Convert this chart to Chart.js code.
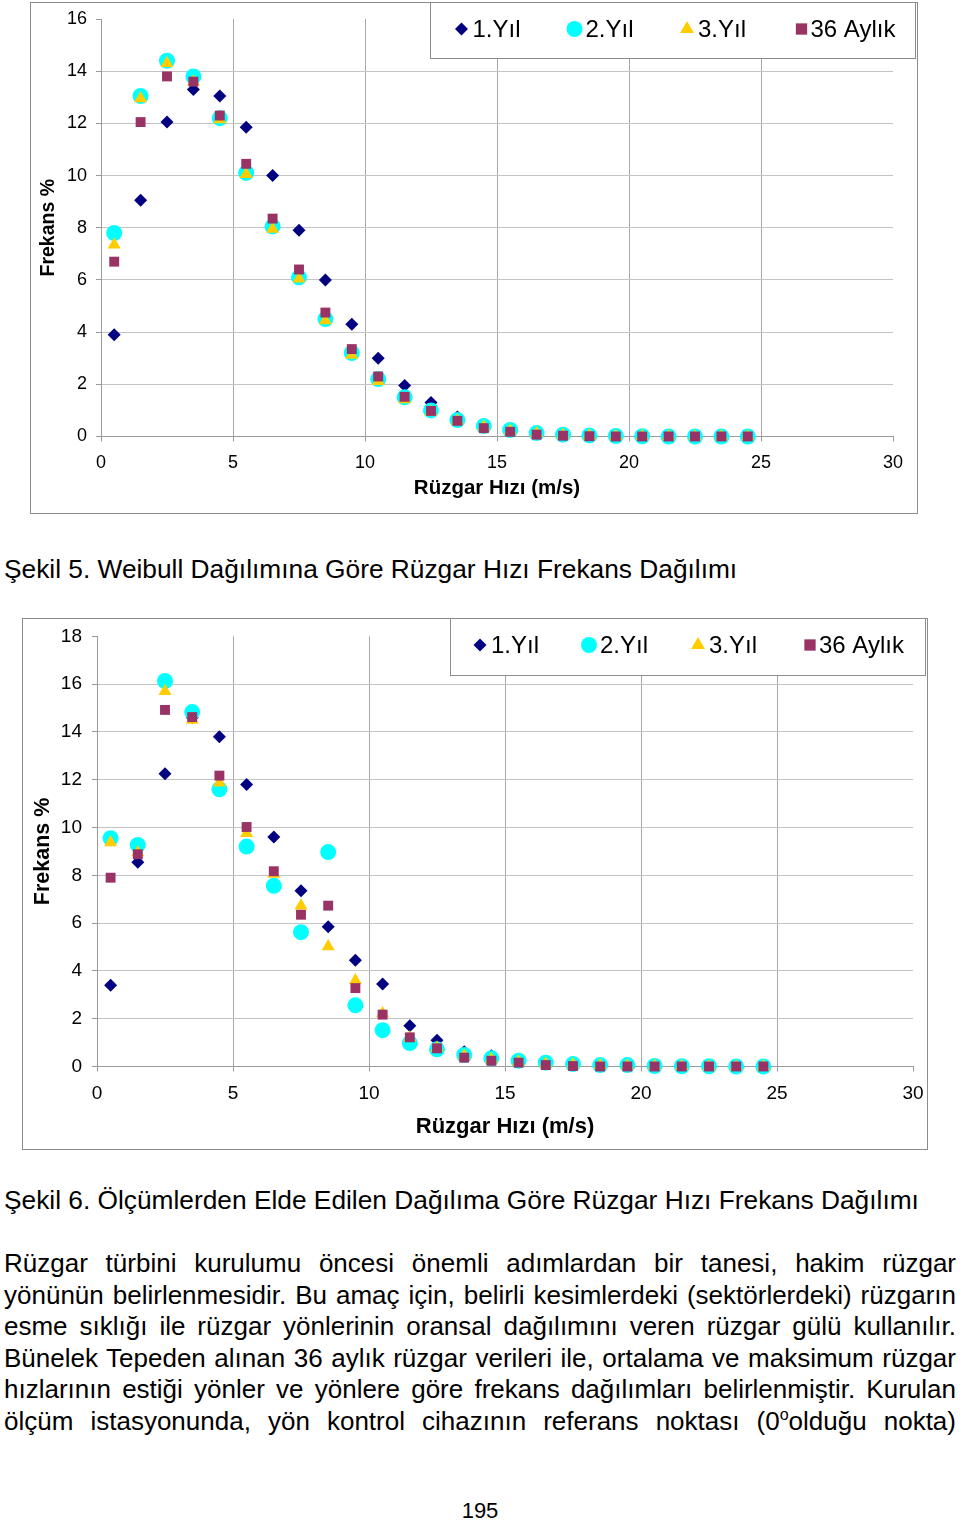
<!DOCTYPE html>
<html>
<head>
<meta charset="utf-8">
<script src="https://cdn.jsdelivr.net/npm/chart.js@4.4.1/dist/chart.umd.min.js"></script>
<style>
  body { margin: 0; background: #fff; width: 960px; height: 1523px; position: relative; overflow: hidden;
         font-family: 'Liberation Sans', Arial, sans-serif; color: #000; }
  .frame { position: absolute; border: 1px solid #8c8c8c; box-sizing: border-box; }
  canvas { position: absolute; }
  .caption { position: absolute; left: 4px; font-size: 26.3px; line-height: 30px; white-space: nowrap; }
  .para { position: absolute; left: 4px; top: 1248px; width: 952px; font-size: 26px; line-height: 31.6px; }
  .para div { white-space: nowrap; }
  .para sup { font-size: 16px; line-height: 0; vertical-align: 10px; }
  .pageno { position: absolute; left: 0; width: 960px; top: 1498px; text-align: center; font-size: 22px; }
</style>
</head>
<body>

<div class="frame" style="left:30px;top:2px;width:888px;height:512px"></div>
<canvas id="weibull" width="888" height="512" style="left:30px;top:2px"></canvas>

<div class="caption" style="top:554px">Şekil 5. Weibull Dağılımına Göre Rüzgar Hızı Frekans Dağılımı</div>

<div class="frame" style="left:22px;top:618px;width:906px;height:532px"></div>
<canvas id="olcum" width="906" height="532" style="left:22px;top:618px"></canvas>

<div class="caption" style="top:1185px">Şekil 6. Ölçümlerden Elde Edilen Dağılıma Göre Rüzgar Hızı Frekans Dağılımı</div>

<div class="para">
  <div><span>Rüzgar türbini kurulumu öncesi önemli adımlardan bir tanesi, hakim rüzgar</span></div>
  <div><span>yönünün belirlenmesidir. Bu amaç için, belirli kesimlerdeki (sektörlerdeki) rüzgarın</span></div>
  <div><span>esme sıklığı ile rüzgar yönlerinin oransal dağılımını veren rüzgar gülü kullanılır.</span></div>
  <div><span>Bünelek Tepeden alınan 36 aylık rüzgar verileri ile, ortalama ve maksimum rüzgar</span></div>
  <div><span>hızlarının estiği yönler ve yönlere göre frekans dağılımları belirlenmiştir. Kurulan</span></div>
  <div><span>ölçüm istasyonunda, yön kontrol cihazının referans noktası (0<sup>o</sup>olduğu nokta)</span></div>
</div>

<div class="pageno">195</div>

<script>
// wind speed bin centres (m/s)
var hiz = [0.5, 1.5, 2.5, 3.5, 4.5, 5.5, 6.5, 7.5, 8.5, 9.5, 10.5, 11.5, 12.5,
           13.5, 14.5, 15.5, 16.5, 17.5, 18.5, 19.5, 20.5, 21.5, 22.5, 23.5, 24.5];

var etiketler = ['1.Yıl', '2.Yıl', '3.Yıl', '36 Aylık'];

// Şekil 5 - Weibull
var w_yil1 = [3.9, 9.05, 12.05, 13.3, 13.05, 11.85, 10.0, 7.9, 6.0, 4.3, 3.0, 1.95, 1.3,
              0.75, 0.45, 0.25, 0.13, 0.07, 0.03, 0.02, 0.01, 0, 0, 0, 0];
var w_yil2 = [7.8, 13.05, 14.4, 13.8, 12.2, 10.1, 8.05, 6.1, 4.5, 3.2, 2.2, 1.5, 1.0,
              0.63, 0.4, 0.25, 0.13, 0.07, 0.04, 0.02, 0.01, 0, 0, 0, 0];
var w_yil3 = [7.35, 12.95, 14.3, 13.6, 12.15, 10.05, 7.95, 6.05, 4.45, 3.12, 2.12, 1.42, 0.95,
              0.6, 0.37, 0.22, 0.12, 0.06, 0.03, 0.01, 0.01, 0, 0, 0, 0];
var w_ay36 = [6.7, 12.05, 13.8, 13.6, 12.3, 10.45, 8.35, 6.4, 4.75, 3.35, 2.3, 1.52, 0.98,
              0.6, 0.32, 0.18, 0.07, 0.03, 0.01, 0, 0, 0, 0, 0, 0];

// Şekil 6 - ölçüm
var m_yil1 = [3.4, 8.55, 12.25, 14.6, 13.8, 11.8, 9.6, 7.35, 5.85, 4.45, 3.45, 1.7, 1.1,
              0.62, 0.45, 0.3, 0.2, 0.12, 0.08, 0.05, 0.03, 0.02, 0.01, 0, 0];
var m_yil2 = [9.55, 9.27, 16.13, 14.83, 11.6, 9.2, 7.56, 5.62, 8.97, 2.56, 1.52, 0.98, 0.72,
              0.48, 0.34, 0.24, 0.16, 0.1, 0.06, 0.06, 0.02, 0.01, 0.01, 0, 0];
var m_yil3 = [9.37, 8.95, 15.7, 14.5, 11.87, 9.76, 8.05, 6.73, 5.02, 3.6, 2.22, 1.2, 0.78,
              0.45, 0.3, 0.2, 0.12, 0.08, 0.05, 0.03, 0.02, 0.01, 0, 0, 0];
var m_ay36 = [7.9, 8.88, 14.92, 14.62, 12.17, 10.02, 8.17, 6.35, 6.73, 3.28, 2.17, 1.22, 0.76,
              0.37, 0.24, 0.16, 0.06, 0.02, 0, 0, 0, 0, 0, 0, 0];

var xTicks = [0, 5, 10, 15, 20, 25, 30];

var renkler = ['#000080', '#00FFFF', '#FFCC00', '#993366'];
var stiller = ['rectRot', 'circle', 'triangle', 'rect'];

// legend box drawn over the plot, like the excel one
var kutuLegend = {
    id: 'kutuLegend',
    afterDraw: function (chart, args, o) {
        var ctx = chart.ctx;
        ctx.save();
        ctx.fillStyle = '#fff';
        ctx.fillRect(o.x, o.y, o.w, o.h);
        ctx.strokeStyle = '#8c8c8c';
        ctx.lineWidth = 1;
        ctx.strokeRect(o.x + 0.5, o.y + 0.5, o.w - 1, o.h - 1);
        ctx.font = o.font;
        ctx.textBaseline = 'middle';
        chart.data.datasets.forEach(function (ds, i) {
            ctx.fillStyle = ds.backgroundColor;
            Chart.helpers.drawPoint(ctx, {pointStyle: ds.pointStyle, radius: o.r[i], borderWidth: 0, rotation: 0}, o.mx[i], o.cy);
            ctx.fillStyle = '#000';
            ctx.fillText(ds.label, o.mx[i] + o.gap[i], o.cy + 1);
        });
        ctx.restore();
    }
};

function ciz(id, seriler, s) {
    var datasets = seriler.map(function (vals, i) {
        return {
            label: etiketler[i],
            data: hiz.map(function (x, j) { return {x: x, y: vals[j]}; }),
            pointStyle: stiller[i],
            pointRadius: s.r[i],
            backgroundColor: renkler[i],
            borderColor: renkler[i],
            pointBorderWidth: 0,
            order: 4 - i,
            clip: false
        };
    });
    return new Chart(document.getElementById(id), {
        type: 'scatter',
        data: {datasets: datasets},
        plugins: [kutuLegend],
        options: {
            responsive: false,
            animation: false,
            events: [],
            layout: {padding: {top: s.padTop, right: s.padRight, left: 0, bottom: 0}},
            plugins: {
                legend: {display: false},
                tooltip: {enabled: false},
                kutuLegend: s.legend
            },
            scales: {
                x: {
                    type: 'linear', min: 0, max: 30,
                    afterBuildTicks: function (sc) { sc.ticks = xTicks.map(function (v) { return {value: v}; }); },
                    afterFit: function (sc) { sc.height = s.xH; sc.paddingLeft = 0; sc.paddingRight = 0; },
                    ticks: {font: {family: 'Liberation Sans', size: s.tickSize}, color: '#000', padding: 11, maxRotation: 0},
                    grid: {
                        color: function (c) { return (c.tick && (c.tick.value === 0 || c.tick.value === 30)) ? 'rgba(0,0,0,0)' : '#a8a8a8'; },
                        tickColor: '#9a9a9a', tickLength: 5
                    },
                    border: {color: '#9a9a9a'},
                    title: {display: true, text: 'Rüzgar Hızı (m/s)', color: '#000',
                            font: {family: 'Liberation Sans', size: s.xTitleSize, weight: 'bold'},
                            padding: {top: 0, bottom: s.xTitlePad}}
                },
                y: {
                    min: 0, max: s.yMax,
                    afterFit: function (sc) { sc.width = s.yW; sc.paddingTop = 0; sc.paddingBottom = 0; },
                    ticks: {stepSize: 2, font: {family: 'Liberation Sans', size: s.tickSize}, color: '#000', padding: s.yTickPad},
                    grid: {
                        color: function (c) { return (c.tick && (c.tick.value === 0 || c.tick.value === s.yMax)) ? 'rgba(0,0,0,0)' : '#c4c4c4'; },
                        tickColor: '#9a9a9a', tickLength: 5
                    },
                    border: {color: '#9a9a9a'},
                    title: {display: true, text: 'Frekans %', color: '#000',
                            font: {family: 'Liberation Sans', size: s.yTitleSize, weight: 'bold'},
                            padding: {top: s.yTitlePad, bottom: 0}}
                }
            }
        }
    });
}

ciz('weibull', [w_yil1, w_yil2, w_yil3, w_ay36], {
    r: [6.5, 8, 7.5, 7],
    padTop: 17, padRight: 25, xH: 77.5, yW: 71, yMax: 16,
    tickSize: 18, xTitleSize: 20.5, yTitleSize: 19.5, xTitlePad: 13, yTitlePad: 7, yTickPad: 9,
    legend: {x: 400, y: 0, w: 486, h: 57, cy: 27, font: '24px "Liberation Sans"',
             mx: [431.5, 544.5, 657, 771.5], gap: [11, 11, 11, 9], r: [6.5, 8, 8, 8]}
});

ciz('olcum', [m_yil1, m_yil2, m_yil3, m_ay36], {
    r: [6.5, 8, 7.5, 7],
    padTop: 18.3, padRight: 15, xH: 83.5, yW: 75, yMax: 18,
    tickSize: 19, xTitleSize: 22, yTitleSize: 21.5, xTitlePad: 10, yTitlePad: 8, yTickPad: 10,
    legend: {x: 428, y: 0, w: 476, h: 58, cy: 27, font: '24px "Liberation Sans"',
             mx: [458, 567, 676, 788], gap: [11, 11, 11, 9], r: [6.5, 8, 8, 8]}
});

// justify each paragraph line to the full width
document.querySelectorAll('.para div').forEach(function (d) {
    var sp = d.querySelector('span');
    var w = sp.getBoundingClientRect().width;
    var n = (sp.textContent.match(/ /g) || []).length;
    if (n > 0) sp.style.wordSpacing = ((952 - w) / n) + 'px';
});
</script>
</body>
</html>
